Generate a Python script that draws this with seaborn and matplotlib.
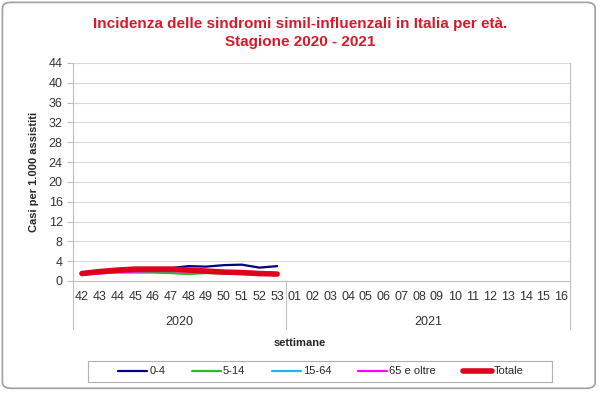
import numpy as np
import pandas as pd
import matplotlib
matplotlib.use('Agg')
import matplotlib.pyplot as plt
import matplotlib.transforms as mtransforms
from matplotlib.patches import FancyBboxPatch, Rectangle
import seaborn as sns

# weeks of the season (x categories)
weeks_2020 = ['42', '43', '44', '45', '46', '47', '48', '49', '50', '51', '52', '53']
weeks_2021 = ['01', '02', '03', '04', '05', '06', '07', '08', '09', '10', '11', '12', '13', '14', '15', '16']
weeks = weeks_2020 + weeks_2021

# incidence values (only 2020 weeks reported so far)
age_0_4 = [1.7, 2.0, 2.3, 2.5, 2.5, 2.6, 3.0, 2.9, 3.2, 3.3, 2.7, 3.0]
age_5_14 = [1.4, 1.6, 1.7, 1.7, 1.7, 1.6, 1.4, 1.6, 1.5, 1.4, 1.3, 1.2]
age_15_64 = [1.4, 1.8, 2.1, 2.3, 2.3, 2.3, 2.1, 1.9, 1.8, 1.6, 1.5, 1.3]
age_65 = [1.3, 1.5, 1.8, 1.9, 2.0, 2.0, 1.9, 1.8, 1.6, 1.5, 1.4, 1.3]
totale = [1.5, 1.9, 2.2, 2.4, 2.4, 2.4, 2.2, 2.0, 1.8, 1.7, 1.5, 1.4]

series = {'0-4': age_0_4, '5-14': age_5_14, '15-64': age_15_64,
          '65 e oltre': age_65, 'Totale': totale}
colors = {'0-4': '#000080', '5-14': '#2db82d', '15-64': '#1eb4f0',
          '65 e oltre': '#ff00ff', 'Totale': '#e0001b'}
widths = {'0-4': 1.6, '5-14': 1.6, '15-64': 1.6, '65 e oltre': 1.6, 'Totale': 4.0}

rows = []
for name, vals in series.items():
    for i, v in enumerate(vals):
        rows.append({'pos': i, 'value': v, 'gruppo': name})
df = pd.DataFrame(rows)

sns.set_style('white')
plt.rcParams['font.family'] = ['Liberation Sans', 'DejaVu Sans']

fig = plt.figure(figsize=(6, 3.93), dpi=100)
ax = fig.add_axes([0.1217, 0.285, 0.8283, 0.5547])

for name in series:
    sub = df[df['gruppo'] == name]
    sns.lineplot(data=sub, x='pos', y='value', color=colors[name],
                 linewidth=widths[name], ax=ax, label=name, legend=False,
                 solid_capstyle='round')

ax.set_ylim(0, 44)
ax.set_yticks(np.arange(0, 45, 4))
ax.set_xlim(-0.5, len(weeks) - 0.5)
ax.set_xticks(range(len(weeks)))
ax.set_xticklabels(weeks, fontsize=9, color='#333333')
ax.tick_params(axis='x', length=0, pad=7)
ax.set_xticks(np.arange(-0.5, len(weeks), 1), minor=True)
ax.tick_params(axis='x', which='minor', length=16, color='#c0c0c0', width=0.8)
ax.tick_params(axis='y', labelsize=9, labelcolor='#333333', length=4,
               color='#c0c0c0', left=True)
ax.grid(axis='y', color='#d9d9d9', linewidth=0.8)
ax.set_xlabel('')
ax.set_ylabel('Casi per 1.000 assistiti', fontsize=8, fontweight='bold', labelpad=7)
for side in ['left', 'bottom', 'right']:
    ax.spines[side].set_color('#c0c0c0')
    ax.spines[side].set_linewidth(0.8)
ax.spines['top'].set_visible(False)

# year group separators and labels
trans = mtransforms.blended_transform_factory(ax.transData, ax.transAxes)
for xb in [-0.5, len(weeks_2020) - 0.5, len(weeks) - 0.5]:
    ax.plot([xb, xb], [0, -0.22], transform=trans, color='#c0c0c0',
            linewidth=0.8, clip_on=False)
ax.text((len(weeks_2020) - 1) / 2, -0.19, '2020', transform=trans,
        ha='center', va='center', fontsize=9, color='#333333')
ax.text(len(weeks_2020) + (len(weeks_2021) - 1) / 2, -0.19, '2021',
        transform=trans, ha='center', va='center', fontsize=9, color='#333333')
fig.text(0.5, 1 - 343 / 393, 'settimane', ha='center', va='center',
         fontsize=8, fontweight='bold')

fig.text(0.5, 1 - 24 / 393, 'Incidenza delle sindromi simil-influenzali in Italia per età.',
         ha='center', va='center', fontsize=11, fontweight='bold', color='#d7192b')
fig.text(0.5, 1 - 42 / 393, 'Stagione 2020 - 2021',
         ha='center', va='center', fontsize=11, fontweight='bold', color='#d7192b')

handles, labels = ax.get_legend_handles_labels()
leg = fig.legend(handles, labels, loc='center', ncol=5,
                 bbox_to_anchor=(0.535, 1 - 371.5 / 393), fontsize=8,
                 frameon=False, handlelength=2.6, handletextpad=0.2,
                 columnspacing=2.4)
for line in leg.get_lines():
    line.set_solid_capstyle('round')

box = Rectangle((88 / 600, 1 - 382 / 393), 464 / 600, 21 / 393,
                transform=fig.transFigure, facecolor='none',
                edgecolor='#b0b0b0', linewidth=0.8)
fig.patches.append(box)

frame = FancyBboxPatch((0.004, 0.012), 0.988, 0.982, transform=fig.transFigure,
                       boxstyle='round,pad=0,rounding_size=0.015',
                       facecolor='none', edgecolor='#a0a0a0', linewidth=1.2)
fig.patches.append(frame)

fig.savefig('out.png', dpi=100)
